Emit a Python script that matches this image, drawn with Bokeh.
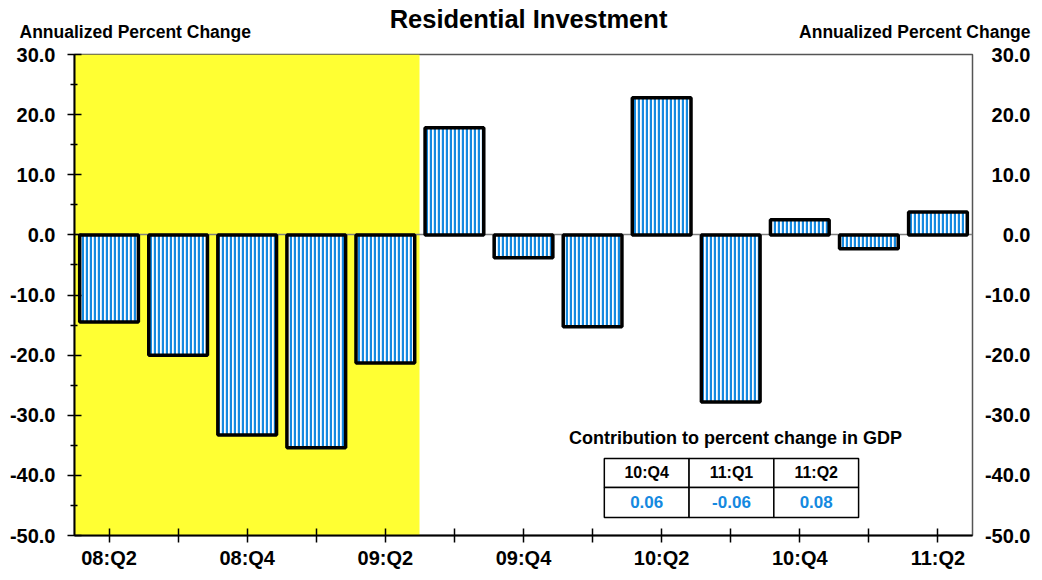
from bokeh.plotting import figure
from bokeh.layouts import column, row
from bokeh.models import FixedTicker, Label, ColumnDataSource, NumeralTickFormatter
from bokeh.embed import file_html
from bokeh.resources import INLINE
from bokeh.core.properties import value

# ---- data ----
quarters = ["08:Q2", "08:Q3", "08:Q4", "09:Q1", "09:Q2", "09:Q3", "09:Q4",
            "10:Q1", "10:Q2", "10:Q3", "10:Q4", "11:Q1", "11:Q2"]
pct_change = [-14.5, -20.0, -33.3, -35.4, -21.3, 17.8, -3.8,
              -15.3, 22.8, -27.8, 2.5, -2.3, 3.8]
shaded_quarters = quarters[:5]
labeled_quarters = quarters[::2]
y_ticks = [-50, -40, -30, -20, -10, 0, 10, 20, 30]
table_quarters = ["10:Q4", "11:Q1", "11:Q2"]
table_values = ["0.06", "-0.06", "0.08"]
title_text = "Residential Investment"
unit_text = "Annualized Percent Change"
table_title = "Contribution to percent change in GDP"

FONT = "Liberation Sans"
BLUE = "#1589E0"
HEAD_H = 43
TOTAL_W = 1040
MAIN_W = 974
FRAME_H = 481
TOP_B = 11
BOT_B = 43
MAIN_H = TOP_B + FRAME_H + BOT_B

centers = [i + 0.5 for i in range(len(quarters))]
minor_y = [(a + b) / 2 for a, b in zip(y_ticks[:-1], y_ticks[1:])]

# ---- header strip (title + unit labels) ----
head = figure(width=TOTAL_W, height=HEAD_H, x_range=(0, TOTAL_W), y_range=(0, HEAD_H),
              min_border=0, output_backend="svg", toolbar_location=None)
head.axis.visible = False
head.grid.visible = False
head.outline_line_color = None
head.text(x=[528], y=[HEAD_H - 18], text=[title_text], text_align="center",
          text_baseline="middle", text_font=value(FONT), text_font_style="bold",
          text_font_size="25.5px", text_color="black")
head.text(x=[19, 1030], y=[HEAD_H - 31, HEAD_H - 31], text=[unit_text, unit_text],
          text_align=["left", "right"], text_baseline="middle", text_font=value(FONT),
          text_font_style="bold", text_font_size="17.5px", text_color="black")

# ---- main chart ----
p = figure(width=MAIN_W, height=MAIN_H, min_border_left=74, min_border_right=2,
           min_border_top=TOP_B, min_border_bottom=BOT_B,
           x_range=(0, len(quarters)), y_range=(y_ticks[0], y_ticks[-1]),
           output_backend="svg", toolbar_location=None)
p.grid.visible = False
p.outline_line_color = "#555555"
p.outline_line_width = 1.5

p.vstrip(x0=[0], x1=[len(shaded_quarters)], fill_color="#FFFF33", line_alpha=0)
p.hspan(y=[0], line_color="#808080", line_width=1.5)

src = ColumnDataSource(dict(x=centers, top=pct_change))
p.vbar(x="x", top="top", bottom=0, width=0.85, source=src,
       fill_color="white", hatch_pattern="|", hatch_scale=4, hatch_weight=2.4,
       hatch_color=BLUE, line_color="black", line_width=3.5)

xa = p.xaxis[0]
xa.ticker = FixedTicker(ticks=centers)
xa.major_label_overrides = {c: (q if q in labeled_quarters else "") for c, q in zip(centers, quarters)}
xa.major_tick_in = 7
xa.major_tick_out = 7
xa.minor_tick_line_color = None
xa.axis_line_width = 2
xa.major_tick_line_width = 1.5
xa.major_label_standoff = 4
xa.major_label_text_font = FONT
xa.major_label_text_font_style = "bold"
xa.major_label_text_font_size = "20px"
xa.major_label_text_color = "black"

ya = p.yaxis[0]
ya.ticker = FixedTicker(ticks=y_ticks, minor_ticks=minor_y)
ya.formatter = NumeralTickFormatter(format="0.0")
ya.major_tick_in = 7
ya.major_tick_out = 7
ya.minor_tick_in = 3
ya.minor_tick_out = 4
ya.axis_line_width = 2
ya.major_tick_line_width = 1.5
ya.minor_tick_line_width = 1.5
ya.major_label_standoff = 12
ya.major_label_text_font = FONT
ya.major_label_text_font_style = "bold"
ya.major_label_text_font_size = "20px"
ya.major_label_text_color = "black"

# contribution table
p.add_layout(Label(x=661, y=98, x_units="screen", y_units="screen",
                   text=table_title, text_align="center", text_baseline="middle",
                   text_font=FONT, text_font_style="bold", text_font_size="18px",
                   text_color="black"))
tbl_left = 7.67
col_w = 1.227
row_edges = [-37.2, -42.0, -47.0]
n = len(table_quarters)
lefts = [tbl_left + i * col_w for i in range(n)]
rights = [l + col_w for l in lefts]
p.quad(left=lefts * 2, right=rights * 2,
       top=[row_edges[0]] * n + [row_edges[1]] * n,
       bottom=[row_edges[1]] * n + [row_edges[2]] * n,
       fill_color="white", line_color="black", line_width=1.5)
mids = [l + col_w / 2 for l in lefts]
p.text(x=mids, y=[(row_edges[0] + row_edges[1]) / 2] * n, text=table_quarters,
       text_align="center", text_baseline="middle", text_font=value(FONT),
       text_font_style="bold", text_font_size="16px", text_color="black")
p.text(x=mids, y=[(row_edges[1] + row_edges[2]) / 2] * n, text=table_values,
       text_align="center", text_baseline="middle", text_font=value(FONT),
       text_font_style="bold", text_font_size="17px", text_color=BLUE)

# ---- right-hand tick labels: a label-only axis whose labels end at x=1030 ----
RW = TOTAL_W - MAIN_W
rt = figure(width=RW, height=MAIN_H, min_border_left=RW - 6, min_border_right=0,
            min_border_top=TOP_B, min_border_bottom=BOT_B,
            x_range=(0, 1), y_range=p.y_range,
            output_backend="svg", toolbar_location=None)
rt.xaxis.visible = False
rt.grid.visible = False
rt.outline_line_color = None
ra = rt.yaxis[0]
ra.ticker = FixedTicker(ticks=y_ticks)
ra.formatter = NumeralTickFormatter(format="0.0")
ra.axis_line_color = None
ra.major_tick_line_color = None
ra.minor_tick_line_color = None
ra.major_tick_out = 0
ra.major_tick_in = 0
ra.major_label_standoff = (MAIN_W + RW - 6) - 1030
ra.major_label_text_font = FONT
ra.major_label_text_font_style = "bold"
ra.major_label_text_font_size = "20px"
ra.major_label_text_color = "black"

layout = column(head, row(p, rt, spacing=0), spacing=0)
open("out.html", "w").write(file_html(layout, INLINE))
